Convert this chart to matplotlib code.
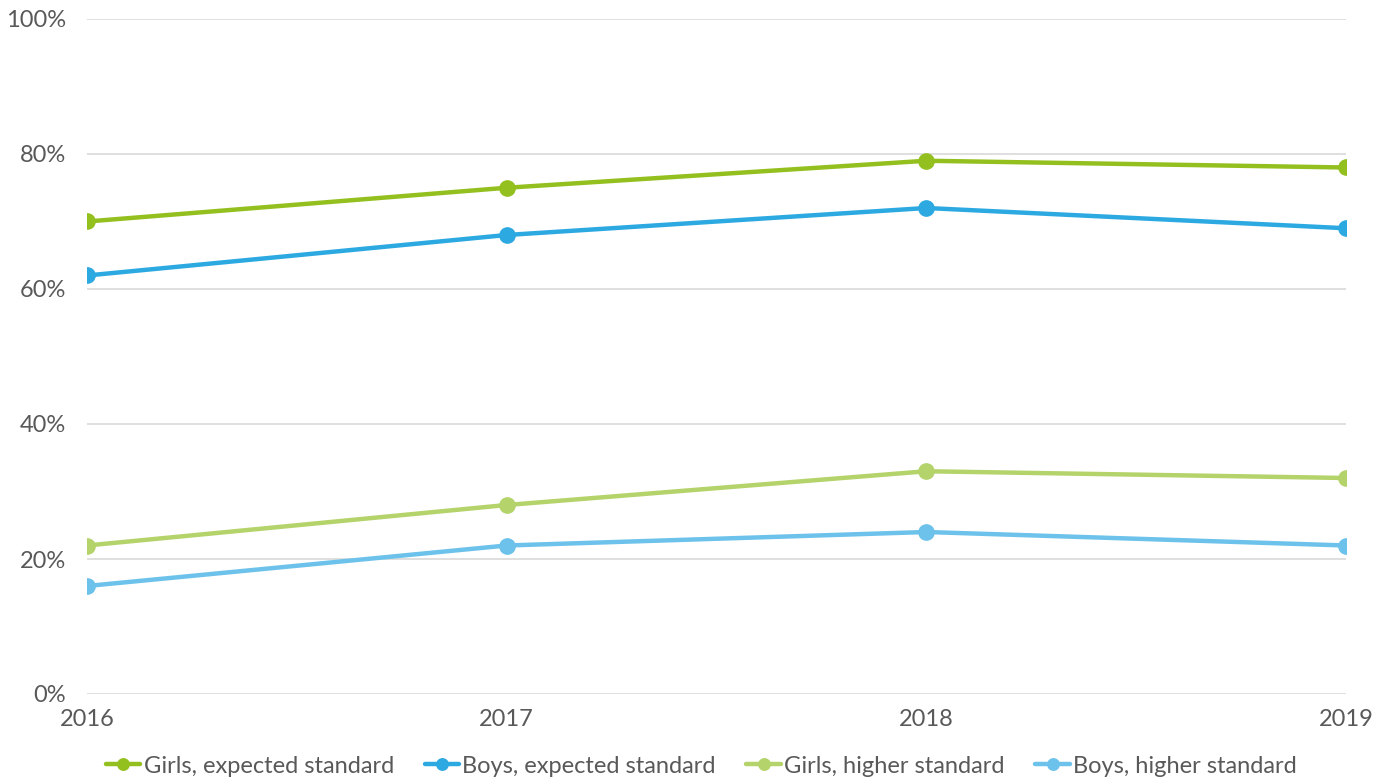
import matplotlib.pyplot as plt
from matplotlib.ticker import PercentFormatter

plt.rcParams['font.family'] = ['Lato', 'DejaVu Sans']

years = [2016, 2017, 2018, 2019]
girls_expected = [70, 75, 79, 78]
boys_expected = [62, 68, 72, 69]
girls_higher = [22, 28, 33, 32]
boys_higher = [16, 22, 24, 22]

series = [
    ('Girls, expected standard', girls_expected, '#93C01F'),
    ('Boys, expected standard', boys_expected, '#2DA9E1'),
    ('Girls, higher standard', girls_higher, '#B4D36A'),
    ('Boys, higher standard', boys_higher, '#6CC2EA'),
]

fig = plt.figure(figsize=(13.77, 7.82), dpi=100)
ax = fig.add_axes([87 / 1377, 1 - 694 / 782, (1346 - 87) / 1377, (694 - 19) / 782])

for label, vals, col in series:
    ax.plot(years, vals, color=col, lw=3.2, marker='o', markersize=11, label=label,
            solid_capstyle='round', zorder=3)

ax.set_xlim(2016, 2019)
ax.set_ylim(0, 100)
ax.set_xticks(years)
ax.set_yticks(range(0, 101, 20))
ax.yaxis.set_major_formatter(PercentFormatter(decimals=0))
ax.grid(axis='y', color='#D9D9D9', lw=1.2)
ax.set_axisbelow(True)
for s in ax.spines.values():
    s.set_visible(False)
ax.tick_params(length=0, labelsize=17, colors='#595959')
ax.tick_params(axis='y', pad=15)
ax.tick_params(axis='x', pad=11)

ax.legend(loc='upper center', bbox_to_anchor=(0.488, -0.06), ncol=4, frameon=False,
          fontsize=17, labelcolor='#595959', handlelength=1.45, handletextpad=0.15,
          columnspacing=1.3, markerscale=0.75)

fig.savefig('out.png', dpi=100)
